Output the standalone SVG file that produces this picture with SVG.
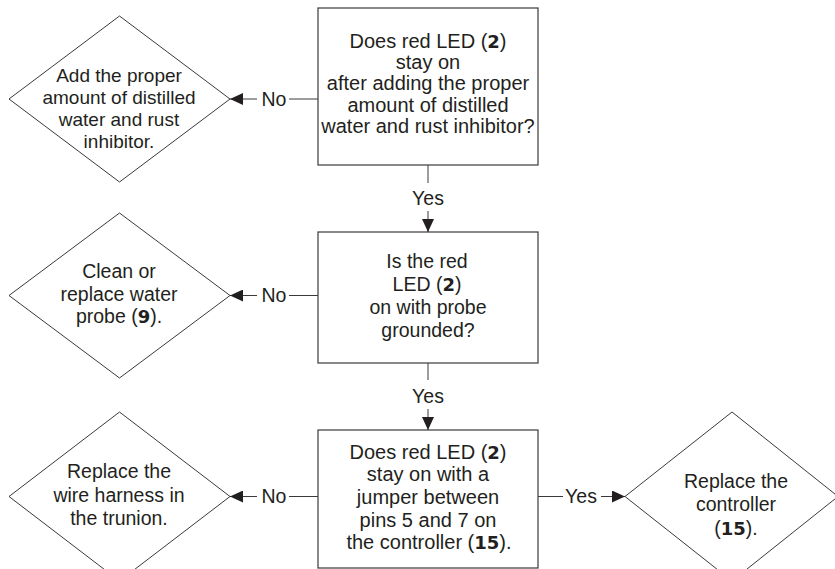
<svg xmlns="http://www.w3.org/2000/svg" width="835" height="569" viewBox="0 0 835 569">
<style>
  .box { fill: #ffffff; stroke: #3a3a3a; stroke-width: 1.2; }
  .dia { fill: #ffffff; stroke: #3a3a3a; stroke-width: 1; }
  .t { font-family: "Liberation Sans", Arial, sans-serif; font-size: 19.5px; fill: #231f20; text-anchor: middle; }
  .t20 { font-size: 20px; }
  .t19 { font-size: 19px; }
  .b { font-family: "DejaVu Sans", "Liberation Sans", sans-serif; font-weight: bold; font-size: 18px; }
  .ln { stroke: #3a3a3a; stroke-width: 1; fill: none; }
</style>
<defs>
  <marker id="ah" markerWidth="13" markerHeight="12" refX="13" refY="6" orient="auto" markerUnits="userSpaceOnUse">
    <path d="M0,0 L13,6 L0,12 z" fill="#231f20"/>
  </marker>
</defs>
<rect width="835" height="569" fill="#ffffff"/>

<g id="q1">
  <rect class="box" x="318" y="8" width="220" height="157"/>
  <text class="t t20" x="428" y="48">Does red LED (<tspan class="b">2</tspan>)</text>
  <text class="t t20" x="428" y="69">stay on</text>
  <text class="t t20" x="428" y="90">after adding the proper</text>
  <text class="t t20" x="428" y="112">amount of distilled</text>
  <text class="t t20" x="428" y="133">water and rust inhibitor?</text>
</g>

<g id="a1">
  <polygon class="dia" points="119.5,16 230,99 119.5,182 9,99"/>
  <text class="t t19" x="119" y="82">Add the proper</text>
  <text class="t t19" x="119" y="104">amount of distilled</text>
  <text class="t t19" x="119" y="126">water and rust</text>
  <text class="t t19" x="119" y="148">inhibitor.</text>
</g>

<g id="q2">
  <rect class="box" x="318" y="232" width="220" height="131"/>
  <text class="t" x="427" y="268">Is the red</text>
  <text class="t" x="427" y="291">LED (<tspan class="b">2</tspan>)</text>
  <text class="t" x="428" y="314">on with probe</text>
  <text class="t" x="428" y="337">grounded?</text>
</g>

<g id="a2">
  <polygon class="dia" points="119.5,213 230,295.5 119.5,378 9,295.5"/>
  <text class="t" x="119" y="278">Clean or</text>
  <text class="t" x="119" y="301">replace water</text>
  <text class="t" x="119" y="323">probe (<tspan class="b">9</tspan>).</text>
</g>

<g id="q3">
  <rect class="box" x="318" y="430" width="220" height="138"/>
  <text class="t t20" x="428" y="459">Does red LED (<tspan class="b">2</tspan>)</text>
  <text class="t t20" x="428" y="481">stay on with a</text>
  <text class="t t20" x="428" y="504">jumper between</text>
  <text class="t t20" x="428" y="527">pins 5 and 7 on</text>
  <text class="t t20" x="429" y="549">the controller (<tspan class="b">15</tspan>).</text>
</g>

<g id="a3">
  <polygon class="dia" points="119.5,412 230,496.5 119.5,581 9,496.5"/>
  <text class="t" x="119" y="478">Replace the</text>
  <text class="t" x="119" y="502">wire harness in</text>
  <text class="t" x="119" y="525">the trunion.</text>
</g>

<g id="a4">
  <polygon class="dia" points="732,412 838,496.5 732,581 625,496.5"/>
  <text class="t" x="736" y="488">Replace the</text>
  <text class="t" x="736" y="511">controller</text>
  <text class="t" x="736" y="535">(<tspan class="b">15</tspan>).</text>
</g>

<g id="connectors">
  <line class="ln" x1="318" y1="99" x2="289" y2="99"/>
  <text class="t" x="274" y="106">No</text>
  <line class="ln" x1="257" y1="99" x2="230" y2="99" marker-end="url(#ah)"/>

  <line class="ln" x1="428" y1="165" x2="428" y2="183"/>
  <text class="t" x="428" y="205">Yes</text>
  <line class="ln" x1="428" y1="211" x2="428" y2="232" marker-end="url(#ah)"/>

  <line class="ln" x1="318" y1="295.5" x2="289" y2="295.5"/>
  <text class="t" x="274" y="302">No</text>
  <line class="ln" x1="257" y1="295.5" x2="230" y2="295.5" marker-end="url(#ah)"/>

  <line class="ln" x1="428" y1="363" x2="428" y2="380"/>
  <text class="t" x="428" y="403">Yes</text>
  <line class="ln" x1="428" y1="409" x2="428" y2="430" marker-end="url(#ah)"/>

  <line class="ln" x1="318" y1="496.5" x2="289" y2="496.5"/>
  <text class="t" x="274" y="503">No</text>
  <line class="ln" x1="257" y1="496.5" x2="230" y2="496.5" marker-end="url(#ah)"/>

  <line class="ln" x1="538" y1="496.5" x2="563" y2="496.5"/>
  <text class="t" x="581" y="503">Yes</text>
  <line class="ln" x1="601" y1="496.5" x2="625" y2="496.5" marker-end="url(#ah)"/>
</g>
</svg>
